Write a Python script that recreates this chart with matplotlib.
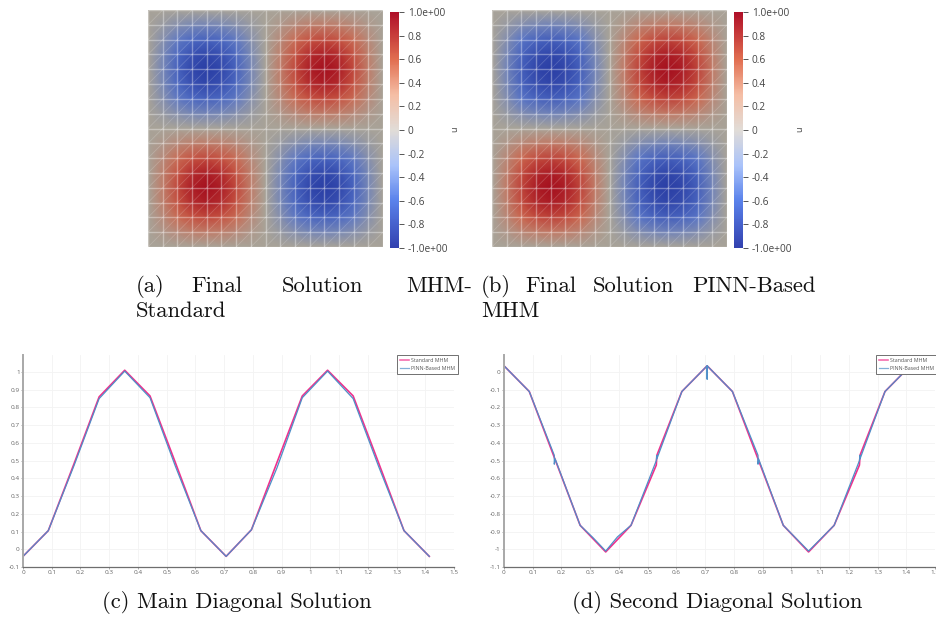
import numpy as np
import matplotlib
matplotlib.use("Agg")
import matplotlib.pyplot as plt
from matplotlib.colors import LinearSegmentedColormap, Normalize
from matplotlib.cm import ScalarMappable

W, H = 936, 619

# Nodal profiles (17 nodes per side)
profile_a = [0, 0.31, 0.66, 0.91, 1.0, 0.91, 0.66, 0.31, 0,
             -0.31, -0.66, -0.91, -1.0, -0.91, -0.66, -0.31, 0]
profile_b = [0, 0.33, 0.69, 0.92, 1.0, 0.92, 0.69, 0.33, 0,
             -0.33, -0.69, -0.92, -1.0, -0.92, -0.69, -0.33, 0]
cbar_ticks = [-1.0, -0.8, -0.6, -0.4, -0.2, 0, 0.2, 0.4, 0.6, 0.8, 1.0]
cbar_labels = ["-1.0e+00", "-0.8", "-0.6", "-0.4", "-0.2", "0",
               "0.2", "0.4", "0.6", "0.8", "1.0e+00"]

# Diagonal line data
main_x = [0, .088, .177, .265, .354, .442, .53, .619, .707, .795, .884, .972, 1.06, 1.149, 1.237, 1.326, 1.414]
main_std = [-.04, .105, .48, .86, 1.01, .865, .49, .105, -.04, .11, .49, .865, 1.01, .865, .49, .105, -.04]
main_pinn = [-.04, .105, .47, .85, 1.005, .855, .47, .105, -.04, .11, .46, .855, 1.005, .85, .47, .105, -.04]

sec_x_std = [0, .088, .177, .265, .354, .442, .53, .532, .619, .707, .795, .884, .972, 1.06, 1.149, 1.237, 1.239, 1.326, 1.414]
sec_std = [.035, -.11, -.49, -.865, -1.015, -.865, -.525, -.47, -.11, .035, -.11, -.49, -.865, -1.015, -.865, -.525, -.47, -.11, .035]
sec_x_pinn = [0, .088, .175, .175, .178, .265, .31, .354, .395, .442, .53, .532, .532, .619, .707, .707, .707, .795,
              .884, .884, .886, .972, 1.06, 1.149, 1.237, 1.239, 1.239, 1.326, 1.414]
sec_pinn = [.035, -.11, -.47, -.52, -.49, -.865, -.935, -1.01, -.93, -.865, -.5, -.47, -.49, -.11, .035, -.04, .035, -.11,
            -.47, -.52, -.49, -.865, -1.01, -.865, -.5, -.47, -.49, -.11, .035]

legend_labels = ["Standard MHM", "PINN-Based MHM"]
main_xticks = [0, .1, .2, .3, .4, .5, .6, .7, .8, .9, 1, 1.1, 1.2, 1.3, 1.4, 1.5]
main_yticks = [-.1, 0, .1, .2, .3, .4, .5, .6, .7, .8, .9, 1]
sec_yticks = [-1.1, -1, -.9, -.8, -.7, -.6, -.5, -.4, -.3, -.2, -.1, 0]

caption_words_a = [("(a)", 136, 286), ("Final", 191, 286), ("Solution", 282, 286), ("MHM-", 406, 286), ("Standard", 136, 311)]
caption_words_b = [("(b)", 481, 286), ("Final", 525, 286), ("Solution", 593, 286), ("PINN-Based", 692, 286), ("MHM", 481, 311)]
caption_c = ("(c) Main Diagonal Solution", 237, 603)
caption_d = ("(d) Second Diagonal Solution", 717, 603)

PINK = "#f0308c"
BLUE = "#4f8fc8"
GRAY = "#6e6e6e"
TICKTXT = "#666666"


def rgb(*c):
    return tuple(v / 255 for v in c)


cmap_bar = LinearSegmentedColormap.from_list("bar", [
    (0.0, rgb(50, 65, 175)), (0.2, rgb(90, 130, 235)), (0.35, rgb(170, 195, 250)),
    (0.5, rgb(225, 220, 215)), (0.65, rgb(245, 190, 165)), (0.8, rgb(225, 110, 80)),
    (1.0, rgb(175, 15, 40))])
cmap_field = LinearSegmentedColormap.from_list("field", [
    (0.0, rgb(42, 62, 165)), (0.25, rgb(85, 115, 200)), (0.5, rgb(168, 163, 153)),
    (0.75, rgb(205, 100, 75)), (1.0, rgb(165, 15, 30))])

plt.rcParams["font.family"] = ["Open Sans", "DejaVu Sans"]
fig = plt.figure(figsize=(W / 100, H / 100), dpi=100, facecolor="white")


def px_axes(x0, y0, x1, y1):
    return fig.add_axes([x0 / W, 1 - y1 / H, (x1 - x0) / W, (y1 - y0) / H])


def field_panel(x0, prof, cx0, label_x):
    ax = px_axes(x0, 10, x0 + 235, 247)
    s = np.linspace(0, 1, len(prof))
    X, Y = np.meshgrid(s, s)
    p = np.array(prof)
    Z = np.outer(p, p)
    ax.pcolormesh(X, Y, Z, shading="gouraud", cmap=cmap_field, vmin=-1, vmax=1)
    for v in s:
        ax.plot([v, v], [0, 1], color="white", alpha=0.36, lw=1.0, solid_capstyle="butt", clip_on=False)
        ax.plot([0, 1], [v, v], color="white", alpha=0.36, lw=1.0, solid_capstyle="butt", clip_on=False)
    for i in range(len(s) - 1):
        for j in range(len(s) - 1):
            ax.plot(s[[i, i + 1]], s[[j, j + 1]], color="white", alpha=0.18, lw=0.6)
    ax.set_xlim(0, 1)
    ax.set_ylim(0, 1)
    ax.axis("off")

    cax = px_axes(cx0, 12, cx0 + 9, 248)
    cb = fig.colorbar(ScalarMappable(Normalize(-1, 1), cmap_bar), cax=cax)
    cb.outline.set_visible(False)
    cb.set_ticks(cbar_ticks, labels=cbar_labels)
    cax.tick_params(axis="y", length=3.6, width=0.7, color="#555555", labelsize=7.3,
                    labelcolor="#444444", pad=2.6)
    fig.text(label_x / W, 1 - 129 / H, "u", rotation=90, fontsize=6.5, color="#444444",
             ha="center", va="center")


field_panel(148, profile_a, 390, 455)
field_panel(492, profile_b, 734, 800)


def line_panel(x0, x1, xlim, ylim, yticks, ystd, xstd, ypinn, xpinn, leg_right, show_last=True):
    ax = px_axes(x0, 355, x1, 567)
    ax.plot(xstd, ystd, color=PINK, lw=1.2, label=legend_labels[0])
    ax.plot(xpinn, ypinn, color=BLUE, lw=0.9, label=legend_labels[1])
    ax.set_xlim(*xlim)
    ax.set_ylim(*ylim)
    ax.set_xticks(main_xticks, labels=[f"{v:g}" for v in main_xticks])
    ax.set_yticks(yticks, labels=[f"{v:g}" for v in yticks])
    ax.grid(True, color="#f3f3f3", lw=0.6)
    ax.set_axisbelow(True)
    ax.tick_params(length=1.5, width=0.4, color=GRAY, labelsize=4.6, labelcolor=TICKTXT, pad=0.8)
    for s in ("top", "right"):
        ax.spines[s].set_visible(False)
    ax.spines["left"].set_color("#a8a8a8")
    ax.spines["left"].set_linewidth(1.4)
    ax.spines["bottom"].set_color(GRAY)
    ax.spines["bottom"].set_linewidth(0.9)
    lx0 = (leg_right - 58 - x0) / (x1 - x0)
    leg = ax.legend(loc="upper left", bbox_to_anchor=(lx0, 1.0), fontsize=3.8, frameon=True,
                    fancybox=False, framealpha=1, edgecolor="#707070", borderpad=0.55,
                    handlelength=1.7, labelspacing=0.6, handletextpad=0.4, borderaxespad=0)
    leg.get_frame().set_linewidth(0.7)
    for t in leg.get_texts():
        t.set_color("#555555")
    for h in leg.get_lines():
        h.set_alpha(0.7)


line_panel(23, 454, (0, 1.5), (-.1, 1.096), main_yticks, main_std, main_x, main_pinn, main_x, 455)
line_panel(504, 935, (0, 1.5), (-1.1, 0.096), sec_yticks, sec_std, sec_x_std, sec_pinn, sec_x_pinn, 934)

CAP = dict(family="cmr10", fontsize=16.3, color="#111111", va="center")
for word, x, y in caption_words_a + caption_words_b:
    fig.text(x / W, 1 - y / H, word, ha="left", **CAP)
for txt, x, y in (caption_c, caption_d):
    fig.text(x / W, 1 - y / H, txt, ha="center", **CAP)

fig.savefig("out.png", dpi=100)
